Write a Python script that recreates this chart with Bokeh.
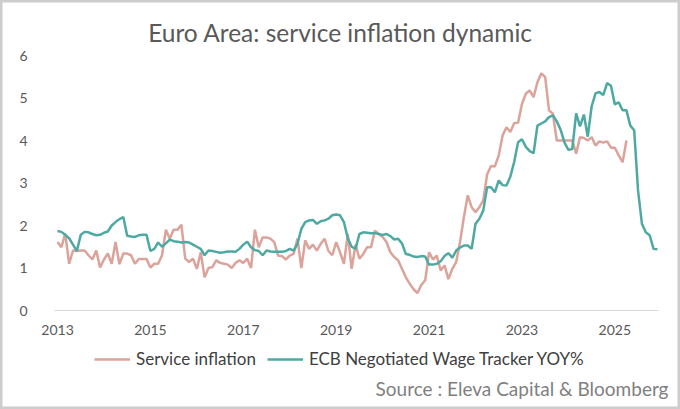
from bokeh.plotting import figure
from bokeh.models import FixedTicker, Legend, LegendItem, Label, Range1d
from bokeh.embed import file_html
from bokeh.resources import INLINE

start_year = 2013
tick_years = [2013, 2015, 2017, 2019, 2021, 2023, 2025]
y_ticks = [0, 1, 2, 3, 4, 5, 6]

# Monthly values from Jan 2013
service_inflation = [
    1.61, 1.49, 1.81, 1.10, 1.41, 1.40, 1.41, 1.41, 1.30, 1.20, 1.41, 1.01,
    1.20, 1.34, 1.10, 1.61, 1.09, 1.34, 1.34, 1.30, 1.10, 1.21, 1.21, 1.21,
    1.01, 1.10, 1.10, 1.30, 1.90, 1.69, 1.90, 1.90, 2.02, 1.22, 1.14, 1.22,
    0.98, 1.37, 0.78, 1.00, 1.02, 1.18, 1.12, 1.10, 1.08, 1.00, 1.12, 1.18,
    1.12, 1.22, 1.00, 1.90, 1.49, 1.72, 1.72, 1.69, 1.61, 1.29, 1.28, 1.20,
    1.29, 1.33, 1.69, 1.00, 1.65, 1.45, 1.55, 1.41, 1.57, 1.69, 1.40, 1.30,
    1.61, 1.37, 1.10, 1.80, 0.98, 1.55, 1.22, 1.33, 1.49, 1.49, 1.88, 1.80,
    1.73, 1.61, 1.37, 1.26, 1.18, 0.98, 0.78, 0.63, 0.50, 0.41, 0.60, 0.71,
    1.37, 1.20, 1.29, 0.94, 1.06, 0.74, 0.98, 1.14, 1.61, 2.20, 2.71, 2.43,
    2.31, 2.43, 2.59, 3.20, 3.40, 3.39, 3.65, 4.12, 4.31, 4.20, 4.41, 4.42,
    4.86, 5.10, 5.18, 5.02, 5.37, 5.58, 5.49, 4.71, 4.63, 4.00, 4.00, 4.00,
    4.00, 4.00, 3.69, 4.08, 4.06, 4.00, 4.08, 3.88, 3.98, 3.95, 3.98, 3.83,
    3.83, 3.65, 3.49, 4.00,
]

wage_tracker = [
    1.87, 1.85, 1.78, 1.70, 1.55, 1.40, 1.78, 1.85, 1.84, 1.80, 1.77, 1.78,
    1.83, 1.86, 2.00, 2.08, 2.15, 2.20, 1.76, 1.74, 1.73, 1.77, 1.78, 1.78,
    1.40, 1.45, 1.60, 1.50, 1.58, 1.67, 1.63, 1.62, 1.60, 1.61, 1.60, 1.55,
    1.50, 1.45, 1.30, 1.41, 1.40, 1.38, 1.36, 1.37, 1.39, 1.39, 1.38, 1.45,
    1.55, 1.62, 1.49, 1.42, 1.40, 1.30, 1.41, 1.39, 1.38, 1.38, 1.38, 1.40,
    1.45, 1.41, 1.57, 1.92, 2.08, 2.12, 2.13, 2.04, 2.10, 2.12, 2.16, 2.24,
    2.26, 2.24, 2.08, 1.70, 1.50, 1.45, 1.80, 1.84, 1.83, 1.82, 1.82, 1.80,
    1.78, 1.80, 1.75, 1.67, 1.69, 1.58, 1.33, 1.31, 1.27, 1.26, 1.28, 1.27,
    1.08, 1.08, 1.10, 1.16, 1.28, 1.35, 1.24, 1.41, 1.48, 1.53, 1.53, 1.45,
    2.04, 2.16, 2.35, 2.90, 2.90, 2.78, 3.06, 2.95, 2.94, 3.15, 3.50, 3.96,
    4.03, 3.85, 3.75, 3.70, 4.35, 4.40, 4.45, 4.55, 4.59, 4.45, 4.25, 3.95,
    3.78, 3.80, 4.64, 4.33, 4.61, 4.09, 4.80, 5.11, 5.14, 5.07, 5.35, 5.29,
    4.85, 4.90, 4.71, 4.71, 4.35, 4.24, 2.82, 2.04, 1.84, 1.77, 1.45, 1.44,
]

x_si = [start_year + i / 12 for i in range(len(service_inflation))]
x_wt = [start_year + i / 12 for i in range(len(wage_tracker))]

FONT = "Lato"
RED = "#DBA39A"
TEAL = "#4EA9A3"

# axis extents and pixel scale of the plot area
X0, X1 = 2012.935, 2025.94
PX_PER_YEAR = 604 / (X1 - X0)
PX_PER_UNIT = 42.5

# the frame fills the whole canvas; axes sit at fixed locations inside it
p = figure(width=680, height=409, output_backend="svg", toolbar_location=None,
           x_range=Range1d(X0 - 54 / PX_PER_YEAR, X1 + 22 / PX_PER_YEAR),
           y_range=Range1d(-99 / PX_PER_UNIT, 6 + 55 / PX_PER_UNIT),
           min_border=0)
p.outline_line_color = "#CDCDCD"
p.outline_line_width = 4
p.grid.visible = False
p.background_fill_color = "white"
p.border_fill_color = "white"

r1 = p.line(x_si, service_inflation, line_color=RED, line_width=2.5)
r2 = p.line(x_wt, wage_tracker, line_color=TEAL, line_width=2.5)

p.xaxis.fixed_location = 0
p.xaxis.bounds = (X0, X1)
p.xaxis.ticker = FixedTicker(ticks=tick_years)
p.xaxis.axis_line_color = "#D9D9D9"
p.xaxis.major_tick_line_color = None
p.xaxis.minor_tick_line_color = None
p.xaxis.major_label_text_font = FONT
p.xaxis.major_label_text_font_size = "14px"
p.xaxis.major_label_text_color = "#595959"
p.xaxis.major_label_standoff = 8

p.yaxis.fixed_location = X0
p.yaxis.bounds = (0, 6)
p.yaxis.ticker = FixedTicker(ticks=y_ticks)
p.yaxis.axis_line_color = None
p.yaxis.major_tick_line_color = None
p.yaxis.minor_tick_line_color = None
p.yaxis.major_label_text_font = FONT
p.yaxis.major_label_text_font_size = "14px"
p.yaxis.major_label_text_color = "#595959"
p.yaxis.major_label_standoff = 21

p.add_layout(Label(x=340, y=409 - 32, x_units="screen", y_units="screen",
                   text="Euro Area: service inflation dynamic", text_align="center",
                   text_baseline="middle", text_font=FONT, text_font_size="24.5px",
                   text_color="#595959"))

legend = Legend(items=[LegendItem(label="Service inflation", renderers=[r1]),
                       LegendItem(label="ECB Negotiated Wage Tracker YOY%", renderers=[r2])],
                orientation="horizontal", location=(94, 40),
                label_text_font=FONT, label_text_font_size="17px",
                label_text_color="#404040", glyph_width=36, label_standoff=6,
                spacing=11, border_line_color=None, background_fill_alpha=0,
                padding=2, margin=0)
p.add_layout(legend, "center")

p.add_layout(Label(x=668, y=21, x_units="screen", y_units="screen",
                   text="Source : Eleva Capital & Bloomberg", text_align="right",
                   text_baseline="middle", text_font=FONT, text_font_size="19px",
                   text_color="#7F7F7F"))

open("out.html", "w").write(file_html(p, INLINE))
